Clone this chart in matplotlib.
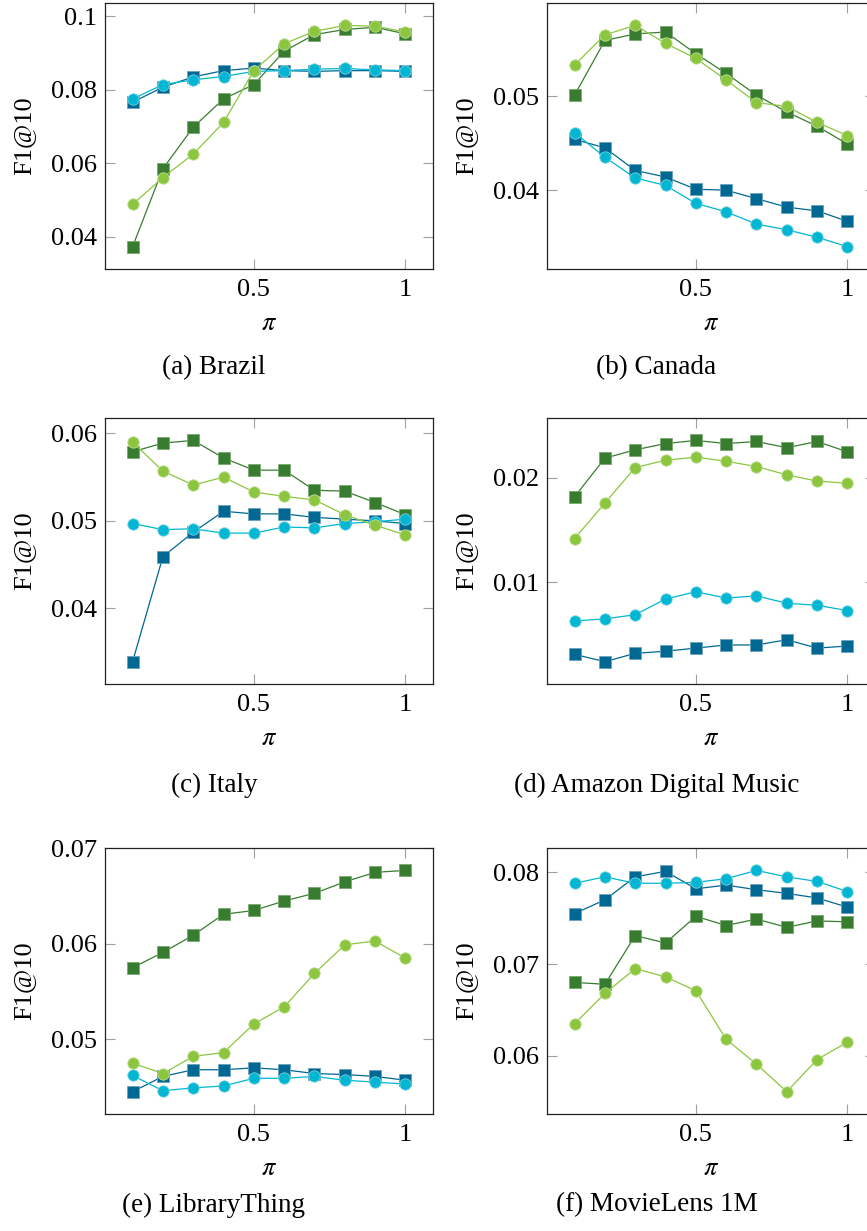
import numpy as np
import matplotlib
matplotlib.use('Agg')
import matplotlib.pyplot as plt
from matplotlib.ticker import FuncFormatter

plt.rcParams['font.family'] = ['Liberation Serif', 'DejaVu Serif']
plt.rcParams['mathtext.fontset'] = 'stix'

pi_values = [0.1, 0.2, 0.3, 0.4, 0.5, 0.6, 0.7, 0.8, 0.9, 1.0]
x_ticks = [0.5, 1.0]

captions = ['(a) Brazil', '(b) Canada', '(c) Italy',
            '(d) Amazon Digital Music', '(e) LibraryThing', '(f) MovieLens 1M']

y_ticks = [
    [0.04, 0.06, 0.08, 0.1],
    [0.04, 0.05],
    [0.04, 0.05, 0.06],
    [0.01, 0.02],
    [0.05, 0.06, 0.07],
    [0.06, 0.07, 0.08],
]

# F1@10 per dataset, one list per method
dark_green_sq = [
    [0.0373, 0.0585, 0.0698, 0.0775, 0.0814, 0.0905, 0.0950, 0.0964, 0.0970, 0.0952],
    [0.0501, 0.0559, 0.0566, 0.0568, 0.0545, 0.0524, 0.0501, 0.0483, 0.0468, 0.0449],
    [0.0579, 0.0589, 0.0592, 0.0572, 0.0558, 0.0558, 0.0535, 0.0534, 0.0521, 0.0507],
    [0.0182, 0.0219, 0.0227, 0.0233, 0.0236, 0.0233, 0.0235, 0.0229, 0.0235, 0.0225],
    [0.0575, 0.0591, 0.0609, 0.0631, 0.0635, 0.0645, 0.0653, 0.0665, 0.0675, 0.0677],
    [0.0680, 0.0678, 0.0731, 0.0723, 0.0752, 0.0742, 0.0749, 0.0740, 0.0747, 0.0746],
]
light_green_ci = [
    [0.0488, 0.0561, 0.0625, 0.0711, 0.0852, 0.0925, 0.0959, 0.0975, 0.0973, 0.0957],
    [0.0533, 0.0565, 0.0575, 0.0556, 0.0540, 0.0517, 0.0493, 0.0489, 0.0472, 0.0458],
    [0.0590, 0.0557, 0.0541, 0.0550, 0.0533, 0.0528, 0.0524, 0.0507, 0.0495, 0.0484],
    [0.0142, 0.0176, 0.0210, 0.0217, 0.0220, 0.0216, 0.0211, 0.0203, 0.0197, 0.0195],
    [0.0475, 0.0464, 0.0482, 0.0486, 0.0516, 0.0534, 0.0569, 0.0599, 0.0603, 0.0585],
    [0.0635, 0.0668, 0.0695, 0.0686, 0.0671, 0.0618, 0.0591, 0.0561, 0.0596, 0.0615],
]
dark_blue_sq = [
    [0.0766, 0.0807, 0.0835, 0.0852, 0.0859, 0.0852, 0.0850, 0.0852, 0.0852, 0.0850],
    [0.0454, 0.0445, 0.0421, 0.0414, 0.0401, 0.0400, 0.0391, 0.0382, 0.0378, 0.0367],
    [0.0339, 0.0459, 0.0487, 0.0511, 0.0508, 0.0508, 0.0504, 0.0502, 0.0500, 0.0497],
    [0.0031, 0.0024, 0.0032, 0.0034, 0.0037, 0.0040, 0.0040, 0.0045, 0.0037, 0.0039],
    [0.0445, 0.0461, 0.0468, 0.0468, 0.0470, 0.0468, 0.0464, 0.0463, 0.0461, 0.0457],
    [0.0755, 0.0770, 0.0795, 0.0801, 0.0782, 0.0786, 0.0781, 0.0777, 0.0772, 0.0762],
]
cyan_ci = [
    [0.0775, 0.0814, 0.0827, 0.0836, 0.0850, 0.0852, 0.0856, 0.0858, 0.0854, 0.0852],
    [0.0461, 0.0435, 0.0413, 0.0405, 0.0386, 0.0377, 0.0364, 0.0358, 0.0350, 0.0340],
    [0.0497, 0.0490, 0.0491, 0.0486, 0.0486, 0.0493, 0.0492, 0.0497, 0.0499, 0.0502],
    [0.0063, 0.0065, 0.0069, 0.0084, 0.0091, 0.0085, 0.0087, 0.0080, 0.0078, 0.0073],
    [0.0462, 0.0446, 0.0449, 0.0451, 0.0459, 0.0459, 0.0461, 0.0457, 0.0455, 0.0453],
    [0.0788, 0.0795, 0.0788, 0.0788, 0.0789, 0.0793, 0.0802, 0.0795, 0.0790, 0.0779],
]

# (values, colour, edge, marker) in drawing order
series = [
    (dark_green_sq, '#387d2f', '#7aa872', 's'),
    (dark_blue_sq, '#006893', '#6aa3bd', 's'),
    (cyan_ci, '#00b6d2', '#77d3e2', 'o'),
    (light_green_ci, '#8cc63e', '#bddc93', 'o'),
]

W, H = 867, 1231
fig = plt.figure(figsize=(W / 100, H / 100), dpi=100)

col_left = [105.3, 547.3]
ax_w = 327.4
row_top = [3.3, 418.3, 848.3]
ax_h = 265.5
caption_y = [368, 785, 1205]
caption_x = [214, 656.5]

fmt = FuncFormatter(lambda v, _: '%g' % round(v, 4))

for k in range(6):
    r, c = divmod(k, 2)
    rect = [col_left[c] / W, 1 - (row_top[r] + ax_h) / H, ax_w / W, ax_h / H]
    ax = fig.add_axes(rect)
    for vals, color, edge, mk in series:
        ax.plot(pi_values, vals[k], color=color, lw=0.9, marker=mk,
                markersize=8 if mk == 's' else 8.2, markerfacecolor=color,
                markeredgecolor=edge, markeredgewidth=0.6)
    ax.margins(x=0.1, y=0.1)
    ax.set_xticks(x_ticks)
    ax.set_yticks(y_ticks[k])
    ax.xaxis.set_major_formatter(fmt)
    ax.yaxis.set_major_formatter(fmt)
    ax.tick_params(direction='in', length=7, width=0.8, color='#a0a0a0',
                   top=True, right=True, labelsize=19, labelcolor='black')
    ax.tick_params(axis='x', pad=7)
    ax.tick_params(axis='y', pad=6)
    for sp in ax.spines.values():
        sp.set_linewidth(0.9)
        sp.set_color('#222222')
    ax.set_xlabel(r'$\pi$', fontsize=19)
    ax.xaxis.set_label_coords(0.5, -0.166)
    ax.set_ylabel('F1@10', fontsize=19)
    ax.yaxis.set_label_coords(-0.215, 0.5)
    fig.text(caption_x[c] / W, 1 - caption_y[r] / H, captions[k],
             ha='center', va='center', fontsize=19.5)

fig.savefig('out.png', dpi=100)
